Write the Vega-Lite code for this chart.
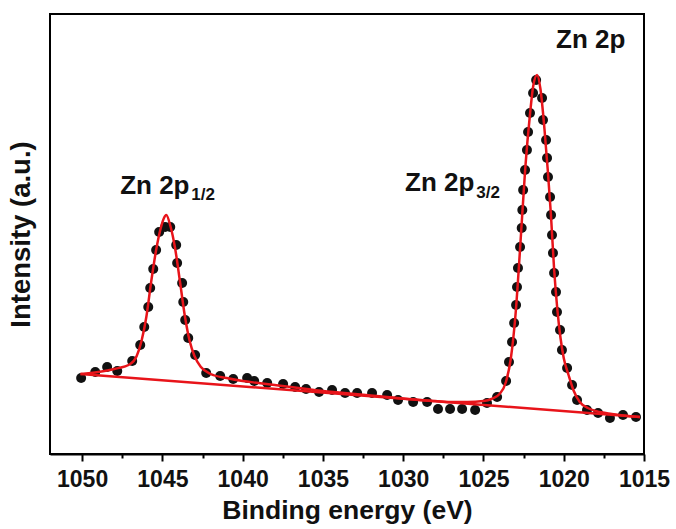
{
  "$schema": "https://vega.github.io/schema/vega-lite/v6.json",
  "width": 594,
  "height": 440,
  "autosize": "none",
  "padding": {"left": 50, "top": 14, "right": 32, "bottom": 75},
  "background": "white",
  "config": {
    "view": {"stroke": "black", "strokeWidth": 2},
    "font": "Liberation Sans"
  },
  "datasets": {
    "points": [
      {"E": 1050.06, "I": 76}, {"E": 1049.18, "I": 82}, {"E": 1048.44, "I": 87}, {"E": 1047.81, "I": 83},
      {"E": 1046.88, "I": 93}, {"E": 1046.38, "I": 109}, {"E": 1046.13, "I": 127}, {"E": 1045.88, "I": 147},
      {"E": 1045.76, "I": 166}, {"E": 1045.57, "I": 185}, {"E": 1045.39, "I": 204}, {"E": 1045.2, "I": 222},
      {"E": 1044.83, "I": 227}, {"E": 1044.51, "I": 227}, {"E": 1044.14, "I": 209}, {"E": 1044.08, "I": 191},
      {"E": 1043.77, "I": 171}, {"E": 1043.7, "I": 152}, {"E": 1043.58, "I": 134}, {"E": 1043.39, "I": 116},
      {"E": 1042.96, "I": 99}, {"E": 1042.27, "I": 81}, {"E": 1041.4, "I": 78}, {"E": 1040.59, "I": 75},
      {"E": 1039.72, "I": 76}, {"E": 1039.28, "I": 73}, {"E": 1038.47, "I": 71}, {"E": 1037.48, "I": 70},
      {"E": 1036.73, "I": 67}, {"E": 1036.05, "I": 65}, {"E": 1035.24, "I": 62}, {"E": 1034.43, "I": 64},
      {"E": 1033.62, "I": 61}, {"E": 1032.87, "I": 61}, {"E": 1031.94, "I": 61}, {"E": 1031.0, "I": 59},
      {"E": 1030.32, "I": 54}, {"E": 1029.38, "I": 52}, {"E": 1028.51, "I": 52}, {"E": 1027.83, "I": 45},
      {"E": 1027.08, "I": 45}, {"E": 1026.33, "I": 45}, {"E": 1025.52, "I": 44}, {"E": 1024.78, "I": 51},
      {"E": 1024.15, "I": 57}, {"E": 1023.59, "I": 73}, {"E": 1023.41, "I": 92}, {"E": 1023.22, "I": 112},
      {"E": 1023.09, "I": 131}, {"E": 1022.97, "I": 149}, {"E": 1022.91, "I": 167}, {"E": 1022.85, "I": 186},
      {"E": 1022.72, "I": 207}, {"E": 1022.62, "I": 226}, {"E": 1022.58, "I": 244}, {"E": 1022.53, "I": 264},
      {"E": 1022.41, "I": 284}, {"E": 1022.29, "I": 304}, {"E": 1022.22, "I": 322}, {"E": 1022.1, "I": 341},
      {"E": 1021.91, "I": 361}, {"E": 1021.72, "I": 374}, {"E": 1021.35, "I": 356}, {"E": 1021.29, "I": 334},
      {"E": 1021.1, "I": 314}, {"E": 1021.04, "I": 296}, {"E": 1020.98, "I": 277}, {"E": 1020.85, "I": 257},
      {"E": 1020.79, "I": 239}, {"E": 1020.73, "I": 219}, {"E": 1020.67, "I": 201}, {"E": 1020.6, "I": 181},
      {"E": 1020.48, "I": 162}, {"E": 1020.42, "I": 142}, {"E": 1020.23, "I": 124}, {"E": 1020.11, "I": 104},
      {"E": 1019.79, "I": 86}, {"E": 1019.48, "I": 69}, {"E": 1019.17, "I": 54}, {"E": 1018.55, "I": 44},
      {"E": 1017.86, "I": 41}, {"E": 1017.12, "I": 36}, {"E": 1016.31, "I": 39}, {"E": 1015.5, "I": 37}
    ],
    "fit": [
      {"E": 1050.1, "I": 80}, {"E": 1049.0, "I": 82}, {"E": 1048.0, "I": 85}, {"E": 1047.0, "I": 90},
      {"E": 1046.6, "I": 98}, {"E": 1046.3, "I": 113}, {"E": 1046.0, "I": 137}, {"E": 1045.7, "I": 172},
      {"E": 1045.4, "I": 203}, {"E": 1045.1, "I": 226}, {"E": 1044.9, "I": 236}, {"E": 1044.76, "I": 239},
      {"E": 1044.5, "I": 228}, {"E": 1044.2, "I": 205}, {"E": 1043.9, "I": 172}, {"E": 1043.6, "I": 138},
      {"E": 1043.3, "I": 113}, {"E": 1043.0, "I": 98}, {"E": 1042.6, "I": 87}, {"E": 1042.0, "I": 80},
      {"E": 1041.0, "I": 76}, {"E": 1040.0, "I": 73}, {"E": 1039.0, "I": 71}, {"E": 1038.0, "I": 69},
      {"E": 1037.0, "I": 67}, {"E": 1036.0, "I": 65}, {"E": 1035.0, "I": 63}, {"E": 1034.0, "I": 61.5},
      {"E": 1033.0, "I": 60}, {"E": 1032.0, "I": 58.5}, {"E": 1031.0, "I": 57}, {"E": 1030.0, "I": 55.5},
      {"E": 1029.0, "I": 54}, {"E": 1028.0, "I": 53}, {"E": 1027.0, "I": 52}, {"E": 1026.0, "I": 52},
      {"E": 1025.0, "I": 53}, {"E": 1024.5, "I": 55}, {"E": 1024.0, "I": 60}, {"E": 1023.6, "I": 72},
      {"E": 1023.3, "I": 95}, {"E": 1023.0, "I": 140}, {"E": 1022.7, "I": 210}, {"E": 1022.4, "I": 285},
      {"E": 1022.1, "I": 340}, {"E": 1021.9, "I": 368}, {"E": 1021.66, "I": 379}, {"E": 1021.45, "I": 365},
      {"E": 1021.2, "I": 325}, {"E": 1021.0, "I": 285}, {"E": 1020.8, "I": 240}, {"E": 1020.6, "I": 185},
      {"E": 1020.4, "I": 145}, {"E": 1020.2, "I": 116}, {"E": 1020.0, "I": 96}, {"E": 1019.7, "I": 79},
      {"E": 1019.4, "I": 64}, {"E": 1019.0, "I": 52}, {"E": 1018.5, "I": 46}, {"E": 1018.0, "I": 43},
      {"E": 1017.0, "I": 40}, {"E": 1016.0, "I": 38}, {"E": 1015.25, "I": 37}
    ],
    "baseline": [
      {"E": 1050.1, "I": 80}, {"E": 1015.25, "I": 37}
    ],
    "labels": [
      {"text": "Zn 2p", "kind": "main", "E": 1047.63, "I": 268},
      {"text": "1/2", "kind": "sub", "E": 1043.2, "I": 259},
      {"text": "Zn 2p", "kind": "main", "E": 1029.88, "I": 271},
      {"text": "3/2", "kind": "sub", "E": 1025.45, "I": 261},
      {"text": "Zn 2p", "kind": "main", "E": 1020.48, "I": 414}
    ]
  },
  "encoding": {
    "x": {
      "field": "E", "type": "quantitative",
      "scale": {"domain": [1015, 1052], "reverse": true, "nice": false, "zero": false},
      "axis": {
        "title": "Binding energy (eV)",
        "titleFont": "Liberation Sans", "titleFontSize": 26.5, "titleFontWeight": "bold", "titleColor": "#111",
        "titlePadding": 6,
        "values": [1050, 1047.5, 1045, 1042.5, 1040, 1037.5, 1035, 1032.5, 1030, 1027.5, 1025, 1022.5, 1020, 1017.5, 1015],
        "labelExpr": "datum.value % 5 === 0 ? format(datum.value, 'd') : ''",
        "labelFont": "Liberation Sans", "labelFontSize": 23, "labelFontWeight": "bold", "labelColor": "#111",
        "labelPadding": 7, "labelFlush": false, "labelOverlap": false,
        "tickSize": {"condition": {"test": "datum.value % 5 !== 0", "value": 4}, "value": 7},
        "tickWidth": 2, "tickColor": "black",
        "domainColor": "black", "domainWidth": 2,
        "grid": false
      }
    },
    "y": {
      "field": "I", "type": "quantitative",
      "scale": {"domain": [0, 440], "nice": false},
      "axis": {
        "title": "Intensity (a.u.)",
        "titleFont": "Liberation Sans", "titleFontSize": 27.5, "titleFontWeight": "bold", "titleColor": "#111",
        "titlePadding": 15,
        "labels": false, "ticks": false, "domain": false, "grid": false
      }
    }
  },
  "layer": [
    {
      "data": {"name": "points"},
      "mark": {"type": "point", "filled": true, "shape": "circle", "size": 100, "color": "#111", "opacity": 1}
    },
    {
      "data": {"name": "baseline"},
      "mark": {"type": "line", "color": "#e8141a", "strokeWidth": 2.5}
    },
    {
      "data": {"name": "fit"},
      "mark": {"type": "line", "color": "#e8141a", "strokeWidth": 2.5, "interpolate": "monotone"}
    },
    {
      "data": {"name": "labels"},
      "transform": [{"filter": "datum.kind === 'main'"}],
      "mark": {"type": "text", "align": "left", "baseline": "middle", "font": "Liberation Sans", "fontSize": 26, "fontWeight": "bold", "color": "#111"},
      "encoding": {"text": {"field": "text"}}
    },
    {
      "data": {"name": "labels"},
      "transform": [{"filter": "datum.kind === 'sub'"}],
      "mark": {"type": "text", "align": "left", "baseline": "middle", "font": "Liberation Sans", "fontSize": 17, "fontWeight": "bold", "color": "#111"},
      "encoding": {"text": {"field": "text"}}
    }
  ]
}
